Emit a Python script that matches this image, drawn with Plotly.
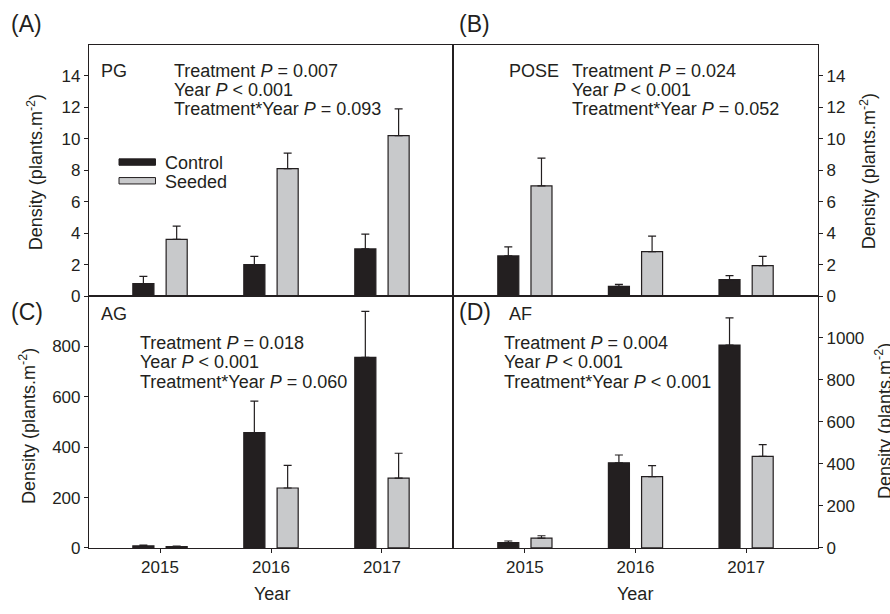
import plotly.graph_objects as go

W, H = 890, 614

years = ["2015", "2016", "2017"]

# Panel A: PG
pg_control = [0.8, 2.0, 3.0]
pg_control_se = [0.45, 0.52, 0.94]
pg_seeded = [3.6, 8.1, 10.2]
pg_seeded_se = [0.85, 0.98, 1.7]

# Panel B: POSE
pose_control = [2.55, 0.62, 1.05]
pose_control_se = [0.58, 0.13, 0.25]
pose_seeded = [7.0, 2.83, 1.94]
pose_seeded_se = [1.77, 0.98, 0.58]

# Panel C: AG
ag_control = [8, 458, 757]
ag_control_se = [3, 125, 182]
ag_seeded = [5, 238, 277]
ag_seeded_se = [2, 90, 99]

# Panel D: AF
af_control = [25, 405, 965]
af_control_se = [8, 37, 129]
af_seeded = [47, 339, 436]
af_seeded_se = [11, 53, 55]

stats_A = ["Treatment <i>P</i> = 0.007", "Year <i>P</i> < 0.001", "Treatment*Year <i>P</i> = 0.093"]
stats_B = ["Treatment <i>P</i> = 0.024", "Year <i>P</i> < 0.001", "Treatment*Year <i>P</i> = 0.052"]
stats_C = ["Treatment <i>P</i> = 0.018", "Year <i>P</i> < 0.001", "Treatment*Year <i>P</i> = 0.060"]
stats_D = ["Treatment <i>P</i> = 0.004", "Year <i>P</i> < 0.001", "Treatment*Year <i>P</i> < 0.001"]

CONTROL_COLOR = "#231f20"
SEEDED_COLOR = "#c8c9cb"
LINE = "#231f20"
FONT = "Liberation Sans, Arial, sans-serif"
FS_TICK = 17
FS = 18


def px(x):
    return x / W


def py(y):
    return 1 - y / H


fig = go.Figure()

panels = [
    ("x", "y", pg_control, pg_control_se, pg_seeded, pg_seeded_se),
    ("x2", "y2", pose_control, pose_control_se, pose_seeded, pose_seeded_se),
    ("x3", "y3", ag_control, ag_control_se, ag_seeded, ag_seeded_se),
    ("x4", "y4", af_control, af_control_se, af_seeded, af_seeded_se),
]

BW = 0.19
for xa, ya, c, cse, s, sse in panels:
    fig.add_trace(go.Bar(
        x=years, y=c, xaxis=xa, yaxis=ya, width=BW, offset=-0.245,
        marker=dict(color=CONTROL_COLOR, line=dict(color=LINE, width=1.2)),
        error_y=dict(type="data", array=cse, arrayminus=[0] * len(cse), symmetric=False,
                     color=LINE, thickness=1.2, width=4),
        showlegend=False, name="Control", hoverinfo="skip"))
    fig.add_trace(go.Bar(
        x=years, y=s, xaxis=xa, yaxis=ya, width=BW, offset=0.055,
        marker=dict(color=SEEDED_COLOR, line=dict(color=LINE, width=1.2)),
        error_y=dict(type="data", array=sse, arrayminus=[0] * len(sse), symmetric=False,
                     color=LINE, thickness=1.2, width=4),
        showlegend=False, name="Seeded", hoverinfo="skip"))

xl = [px(89), px(453)]
xr = [px(453), px(818)]
yt = [py(301), py(46)]
yb = [py(557), py(301)]

axis_common = dict(showline=True, linecolor=LINE, linewidth=1.2, mirror=True,
                   showgrid=False, zeroline=False, ticks="outside", ticklen=4,
                   tickcolor=LINE, tickwidth=1.2,
                   tickfont=dict(family=FONT, size=FS_TICK, color="#231f20"))

ytitle = "Density (plants.m<sup>-2</sup>)"

fig.update_layout(
    width=W, height=H,
    margin=dict(l=0, r=0, t=0, b=0),
    paper_bgcolor="white", plot_bgcolor="white",
    barmode="overlay",
    font=dict(family=FONT, size=FS, color="#231f20"),
    xaxis=dict(domain=xl, anchor="y", type="category", range=[-0.64, 2.64],
               showticklabels=False, **{**axis_common, "ticks": ""}),
    yaxis=dict(domain=yt, anchor="x", range=[0, 15.94], tickvals=list(range(0, 15, 2)),
               **axis_common),
    xaxis2=dict(domain=xr, anchor="y2", type="category", range=[-0.65, 2.65],
                showticklabels=False, **{**axis_common, "ticks": ""}),
    yaxis2=dict(domain=yt, anchor="x2", side="right", range=[0, 15.94],
                tickvals=list(range(0, 15, 2)), **axis_common),
    xaxis3=dict(domain=xl, anchor="y3", type="category", range=[-0.64, 2.64],
                **axis_common),
    yaxis3=dict(domain=yb, anchor="x3", range=[0, 1000], tickvals=[0, 200, 400, 600, 800],
                **axis_common),
    xaxis4=dict(domain=xr, anchor="y4", type="category", range=[-0.65, 2.65],
                **axis_common),
    yaxis4=dict(domain=yb, anchor="x4", side="right", range=[0, 1198],
                tickvals=[0, 200, 400, 600, 800, 1000], **axis_common),
)

annots = []


def txt(x, y, s, size=FS, anchor="left", angle=0):
    annots.append(dict(x=px(x), y=py(y), xref="paper", yref="paper", text=s,
                       showarrow=False, xanchor=anchor, yanchor="middle",
                       textangle=angle,
                       font=dict(family=FONT, size=size, color="#231f20")))


# panel letters
txt(9, 24, "(A)", 23)
txt(457, 24, "(B)", 23)
txt(9, 317, "(C)", 23)
txt(457, 317, "(D)", 23)

# species labels
txt(99, 72, "PG")
txt(507, 72, "POSE")
txt(99, 319, "AG")
txt(507, 319, "AF")


def stats(x, y0, lines):
    for i, s in enumerate(lines):
        txt(x, y0 + i * 19.5, s)


stats(172, 72, stats_A)
stats(570, 72, stats_B)
stats(138, 349, stats_C)
stats(502, 349, stats_D)

# legend text
txt(163, 166, "Control")
txt(163, 185, "Seeded")

# axis titles
txt(35, 175, ytitle, FS, "center", -90)
txt(868, 174, ytitle, FS, "center", -90)
txt(28, 433, ytitle, FS, "center", -90)
txt(883, 428, ytitle, FS, "center", -90)
txt(271.5, 604, "Year", FS, "center")
txt(635, 604, "Year", FS, "center")

fig.update_layout(annotations=annots)

# legend swatches
fig.add_shape(type="rect", xref="paper", yref="paper",
              x0=px(119), x1=px(155.5), y0=py(168), y1=py(161.5),
              fillcolor=CONTROL_COLOR, line=dict(color=LINE, width=1))
fig.add_shape(type="rect", xref="paper", yref="paper",
              x0=px(119), x1=px(155.5), y0=py(187), y1=py(180.5),
              fillcolor=SEEDED_COLOR, line=dict(color=LINE, width=1))

fig.write_html("out.html", config={"displayModeBar": False},
               post_script="document.body.style.margin='0';document.body.style.overflow='hidden';")
